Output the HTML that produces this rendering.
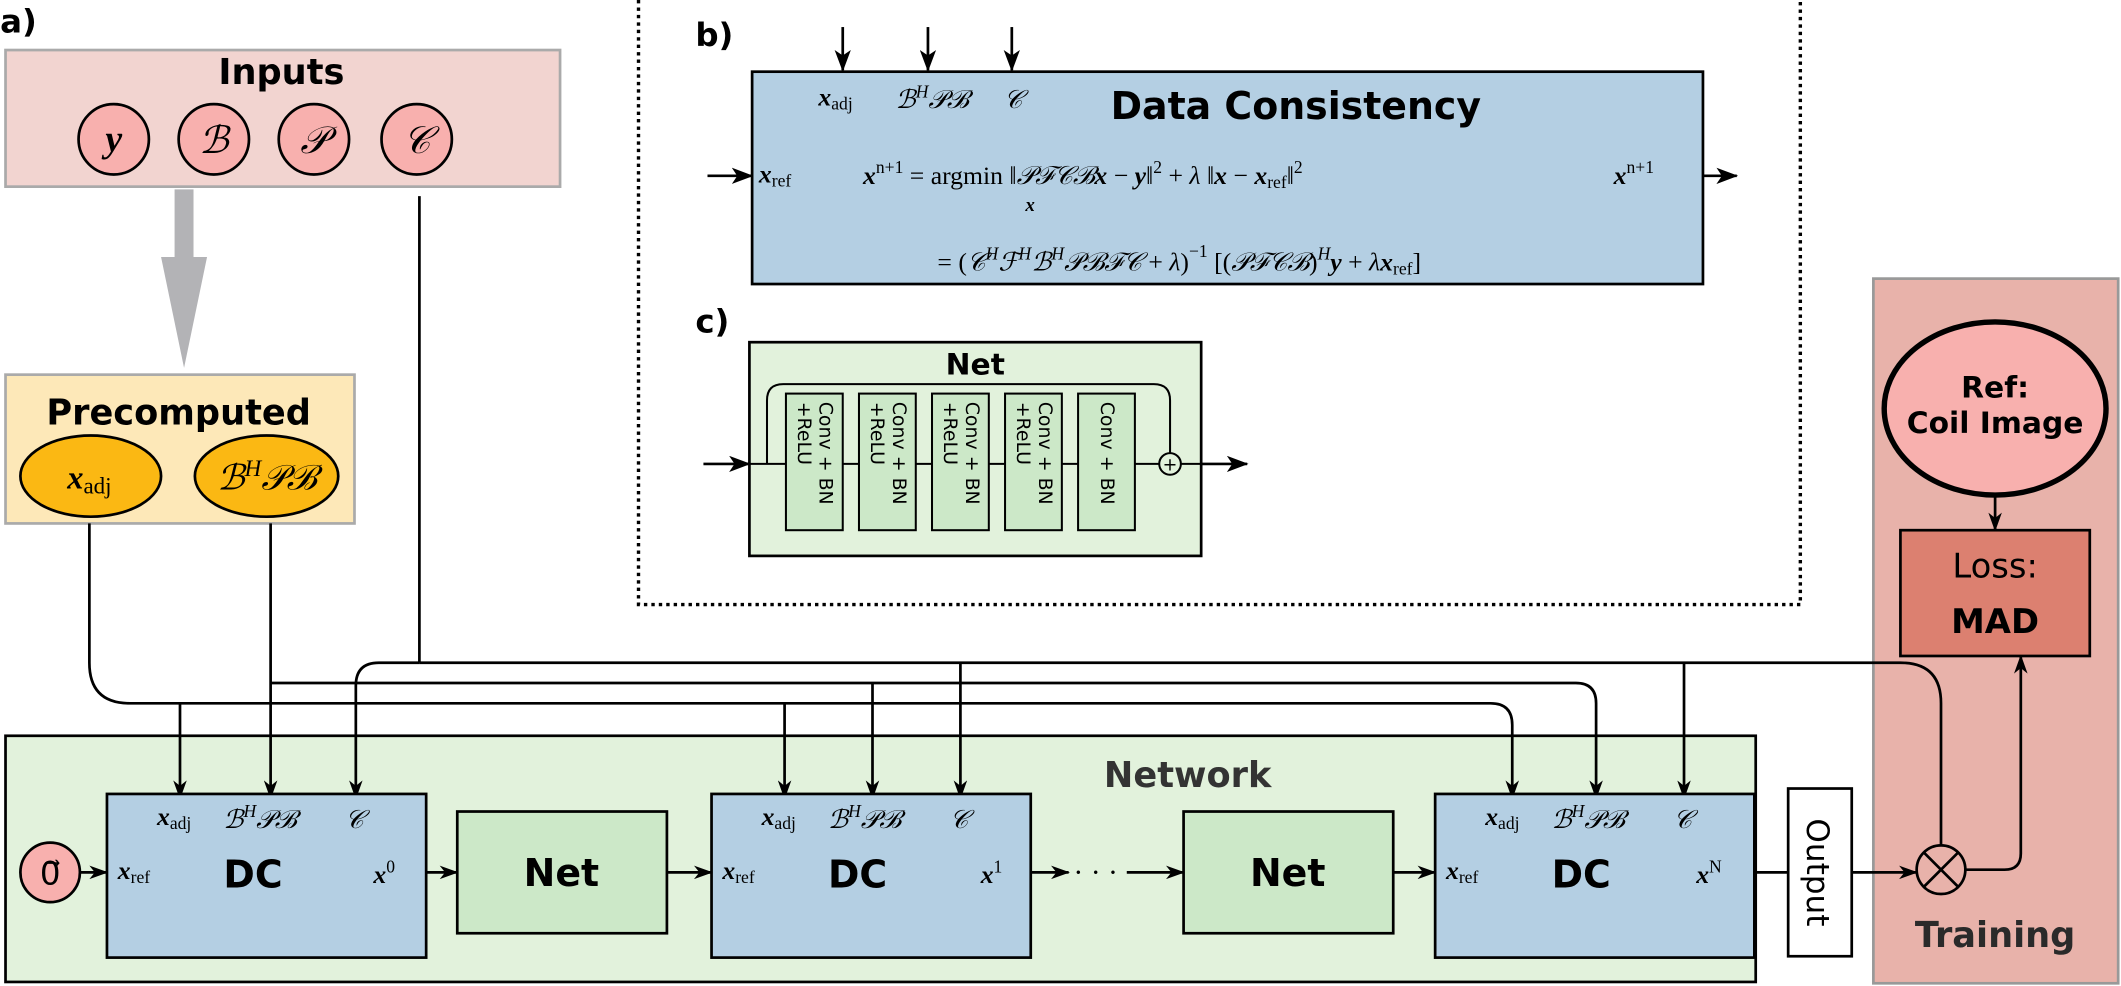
<!DOCTYPE html>
<html><head><meta charset="utf-8"><style>
html,body{margin:0;padding:0;background:#fff}
svg{display:block}
.b{font-family:"DejaVu Sans","Liberation Sans",sans-serif;font-weight:bold}
.s{font-family:"DejaVu Sans","Liberation Sans",sans-serif}
.m{font-family:"Liberation Serif","DejaVu Serif",serif;font-style:italic}
.r{font-family:"Liberation Serif","DejaVu Serif",serif}
</style></head><body>
<svg width="2121" height="986" viewBox="0 0 1568 729" xmlns="http://www.w3.org/2000/svg">
<defs><marker id="a" markerWidth="14" markerHeight="10" refX="13" refY="5" orient="auto" markerUnits="userSpaceOnUse"><path d="M0,0 L14,5 L0,10 L4,5 z" fill="#000"/></marker>
<marker id="A" markerWidth="16" markerHeight="12" refX="15" refY="6" orient="auto" markerUnits="userSpaceOnUse"><path d="M0,0 L16,6 L0,12 L4,6 z" fill="#000"/></marker></defs>

<text x="0" y="24" class="b" font-size="24">a)</text>
<path d="M472,0 V447 H1331 V0" fill="none" stroke="#000" stroke-width="2.5" stroke-dasharray="2.5,3"/>

<!-- Training (background) -->
<rect x="1385" y="206" width="181" height="521" fill="#e8b2aa" stroke="#999" stroke-width="2"/>

<!-- Inputs -->
<rect x="4" y="37" width="410" height="101" fill="#f2d4d0" stroke="#aaa" stroke-width="2"/>
<text x="208" y="62" text-anchor="middle" class="b" font-size="26">Inputs</text>
<g fill="#f8b0ae" stroke="#000" stroke-width="2"><circle cx="84" cy="103" r="26"/><circle cx="158" cy="103" r="26"/><circle cx="232" cy="103" r="26"/><circle cx="308" cy="103" r="26"/></g>
<g class="m" font-size="28" text-anchor="middle"><text x="84" y="112" font-weight="bold">y</text><text x="158" y="113">ℬ</text><text x="232" y="113">𝒫</text><text x="308" y="113">𝒞</text></g>
<path d="M129,140 H143 V190 H153 L136,272 L119,190 H129 Z" fill="#b3b3b6"/>

<!-- Precomputed -->
<rect x="4" y="277" width="258" height="110" fill="#fde8b8" stroke="#aaa" stroke-width="2"/>
<text x="132" y="314" text-anchor="middle" class="b" font-size="26">Precomputed</text>
<ellipse cx="67" cy="352" rx="52" ry="30" fill="#fbb813" stroke="#000" stroke-width="2"/>
<ellipse cx="197" cy="352" rx="53" ry="30" fill="#fbb813" stroke="#000" stroke-width="2"/>
<text x="66" y="361" text-anchor="middle" font-size="24"><tspan class="m" font-weight="bold">x</tspan><tspan class="r" font-size="17" dy="4">adj</tspan></text>
<text x="197" y="362" text-anchor="middle" font-size="26" class="m">ℬ<tspan font-size="17" dy="-10">H</tspan><tspan dy="10">𝒫ℬ</tspan></text>

<!-- Network -->
<rect x="4" y="544" width="1294" height="182" fill="#e2f2dc" stroke="#000" stroke-width="2"/>
<text x="878" y="582" text-anchor="middle" class="b" font-size="26" fill="#333">Network</text>

<!-- wiring -->
<g fill="none" stroke="#000" stroke-width="2">
<path d="M310,145 V490"/>
<path d="M310,490 H280 Q263,490 263,507 V590" marker-end="url(#a)"/>
<path d="M310,490 H1405 Q1435,490 1435,520 V625" />
<path d="M710,490 V590" marker-end="url(#a)"/>
<path d="M1245,490 V590" marker-end="url(#a)"/>
<path d="M200,387 V590" marker-end="url(#a)"/>
<path d="M200,505 H1165 Q1180,505 1180,520 V590" marker-end="url(#a)"/>
<path d="M645,505 V590" marker-end="url(#a)"/>
<path d="M66,387 V490 Q66,520 96,520 H1102 Q1118,520 1118,536 V590" marker-end="url(#a)"/>
<path d="M133,520 V590" marker-end="url(#a)"/>
<path d="M580,520 V590" marker-end="url(#a)"/>
</g>

<circle cx="37" cy="645" r="22" fill="#f8b0ae" stroke="#000" stroke-width="2"/>
<text x="37" y="654" text-anchor="middle" class="r" font-size="24">0⃗</text>

<rect x="79" y="587" width="236" height="121" fill="#b4cfe3" stroke="#000" stroke-width="2"/>
<rect x="526" y="587" width="236" height="121" fill="#b4cfe3" stroke="#000" stroke-width="2"/>
<rect x="1061" y="587" width="236" height="121" fill="#b4cfe3" stroke="#000" stroke-width="2"/>
<rect x="338" y="600" width="155" height="90" fill="#cce8c8" stroke="#000" stroke-width="2"/>
<rect x="875" y="600" width="155" height="90" fill="#cce8c8" stroke="#000" stroke-width="2"/>
<text x="415" y="655" text-anchor="middle" class="b" font-size="28">Net</text>
<text x="952" y="655" text-anchor="middle" class="b" font-size="28">Net</text>

<g font-size="19">
<text x="116" y="610"><tspan class="m" font-weight="bold">x</tspan><tspan class="r" font-size="13" dy="3">adj</tspan></text>
<text x="165" y="612" class="m">ℬ<tspan font-size="13" dy="-8">H</tspan><tspan dy="8">𝒫ℬ</tspan></text>
<text x="255" y="612" class="m">𝒞</text>
<text x="87" y="650"><tspan class="m" font-weight="bold">x</tspan><tspan class="r" font-size="13" dy="3">ref</tspan></text>
<text x="276" y="653"><tspan class="m" font-weight="bold">x</tspan><tspan class="r" font-size="13" dy="-8">0</tspan></text>
<text x="563" y="610"><tspan class="m" font-weight="bold">x</tspan><tspan class="r" font-size="13" dy="3">adj</tspan></text>
<text x="612" y="612" class="m">ℬ<tspan font-size="13" dy="-8">H</tspan><tspan dy="8">𝒫ℬ</tspan></text>
<text x="702" y="612" class="m">𝒞</text>
<text x="534" y="650"><tspan class="m" font-weight="bold">x</tspan><tspan class="r" font-size="13" dy="3">ref</tspan></text>
<text x="725" y="653"><tspan class="m" font-weight="bold">x</tspan><tspan class="r" font-size="13" dy="-8">1</tspan></text>
<text x="1098" y="610"><tspan class="m" font-weight="bold">x</tspan><tspan class="r" font-size="13" dy="3">adj</tspan></text>
<text x="1147" y="612" class="m">ℬ<tspan font-size="13" dy="-8">H</tspan><tspan dy="8">𝒫ℬ</tspan></text>
<text x="1237" y="612" class="m">𝒞</text>
<text x="1069" y="650"><tspan class="m" font-weight="bold">x</tspan><tspan class="r" font-size="13" dy="3">ref</tspan></text>
<text x="1254" y="653"><tspan class="m" font-weight="bold">x</tspan><tspan class="r" font-size="13" dy="-8">N</tspan></text>
</g>
<g class="b" font-size="28" text-anchor="middle"><text x="187" y="656">DC</text><text x="634" y="656">DC</text><text x="1169" y="656">DC</text></g>
<text x="810" y="652" class="r" font-size="22" text-anchor="middle">· · ·</text>

<g fill="none" stroke="#000" stroke-width="2">
<path d="M59,645 H79" marker-end="url(#a)"/>
<path d="M315,645 H338" marker-end="url(#a)"/>
<path d="M493,645 H526" marker-end="url(#a)"/>
<path d="M762,645 H790" marker-end="url(#a)"/>
<path d="M833,645 H875" marker-end="url(#a)"/>
<path d="M1030,645 H1061" marker-end="url(#a)"/>
<path d="M1297,645 H1322" />
<path d="M1369,645 H1417" marker-end="url(#a)"/>
</g>
<rect x="1322" y="583" width="47" height="124" fill="#fff" stroke="#000" stroke-width="2"/>
<text transform="translate(1336,645) rotate(90)" text-anchor="middle" class="s" font-size="23">Output</text>

<!-- Training content -->
<text x="1475" y="700" text-anchor="middle" class="b" font-size="26" fill="#2a2a2a">Training</text>
<ellipse cx="1475" cy="302" rx="82" ry="64" fill="#f8b0ae" stroke="#000" stroke-width="4"/>
<text x="1475" y="294" text-anchor="middle" class="b" font-size="22">Ref:</text>
<text x="1475" y="320" text-anchor="middle" class="b" font-size="22">Coil Image</text>
<path d="M1475,367 V392" stroke="#000" stroke-width="2" marker-end="url(#a)"/>
<rect x="1405" y="392" width="140" height="93" fill="#dc8070" stroke="#000" stroke-width="2"/>
<text x="1475" y="427" text-anchor="middle" class="s" font-size="25">Loss:</text>
<text x="1475" y="468" text-anchor="middle" class="b" font-size="25">MAD</text>
<circle cx="1435" cy="643" r="18" fill="none" stroke="#000" stroke-width="2"/>
<path d="M1422,630 L1448,656 M1448,630 L1422,656" stroke="#000" stroke-width="2"/>
<path d="M1453,643 H1482 Q1494,643 1494,631 V485" fill="none" stroke="#000" stroke-width="2" marker-end="url(#a)"/>

<!-- b) -->
<text x="514" y="34" class="b" font-size="24">b)</text>
<rect x="556" y="53" width="703" height="157" fill="#b4cfe3" stroke="#000" stroke-width="2"/>
<g stroke="#000" stroke-width="2"><path d="M623,20 V52" marker-end="url(#A)"/><path d="M686,20 V52" marker-end="url(#A)"/><path d="M748,20 V52" marker-end="url(#A)"/>
<path d="M523,130 H556" marker-end="url(#A)"/><path d="M1259,130 H1284" marker-end="url(#A)"/></g>
<text x="958" y="88" text-anchor="middle" class="b" font-size="28">Data Consistency</text>
<g font-size="19">
<text x="605" y="78"><tspan class="m" font-weight="bold">x</tspan><tspan class="r" font-size="13" dy="3">adj</tspan></text>
<text x="662" y="80" class="m">ℬ<tspan font-size="13" dy="-8">H</tspan><tspan dy="8">𝒫ℬ</tspan></text>
<text x="742" y="80" class="m">𝒞</text>
<text x="561" y="135"><tspan class="m" font-weight="bold">x</tspan><tspan class="r" font-size="13" dy="3">ref</tspan></text>
<text x="1193" y="136"><tspan class="m" font-weight="bold">x</tspan><tspan class="r" font-size="13" dy="-8">n+1</tspan></text>
<text x="638" y="136"><tspan class="m" font-weight="bold">x</tspan><tspan class="r" font-size="13" dy="-8">n+1</tspan><tspan class="r" dy="8"> = argmin ‖</tspan><tspan class="m">𝒫ℱ𝒞ℬ</tspan><tspan class="m" font-weight="bold">x</tspan><tspan class="r"> − </tspan><tspan class="m" font-weight="bold">y</tspan><tspan class="r">‖</tspan><tspan class="r" font-size="13" dy="-8">2</tspan><tspan class="r" dy="8"> + </tspan><tspan class="m">λ</tspan><tspan class="r"> ‖</tspan><tspan class="m" font-weight="bold">x</tspan><tspan class="r"> − </tspan><tspan class="m" font-weight="bold">x</tspan><tspan class="r" font-size="13" dy="3">ref</tspan><tspan class="r" dy="-3">‖</tspan><tspan class="r" font-size="13" dy="-8">2</tspan></text>
<text x="758" y="156" class="m" font-weight="bold" font-size="14">x</text>
<text x="693" y="200"><tspan class="r">= (</tspan><tspan class="m">𝒞</tspan><tspan class="m" font-size="13" dy="-8">H</tspan><tspan class="m" dy="8">ℱ</tspan><tspan class="m" font-size="13" dy="-8">H</tspan><tspan class="m" dy="8">ℬ</tspan><tspan class="m" font-size="13" dy="-8">H</tspan><tspan class="m" dy="8">𝒫ℬℱ𝒞</tspan><tspan class="r"> + </tspan><tspan class="m">λ</tspan><tspan class="r">)</tspan><tspan class="r" font-size="13" dy="-10">−1</tspan><tspan class="r" dy="10"> [(</tspan><tspan class="m">𝒫ℱ𝒞ℬ</tspan><tspan class="r">)</tspan><tspan class="m" font-size="13" dy="-8">H</tspan><tspan class="m" font-weight="bold" dy="8">y</tspan><tspan class="r"> + </tspan><tspan class="m">λ</tspan><tspan class="m" font-weight="bold">x</tspan><tspan class="r" font-size="13" dy="3">ref</tspan><tspan class="r" dy="-3">]</tspan></text>
</g>

<!-- c) -->
<text x="514" y="246" class="b" font-size="24">c)</text>
<rect x="554" y="253" width="334" height="158" fill="#e2f2dc" stroke="#000" stroke-width="2"/>
<text x="721" y="277" text-anchor="middle" class="b" font-size="22">Net</text>
<path d="M567,343 V296 Q567,284 579,284 H853 Q865,284 865,296 V335" fill="none" stroke="#000" stroke-width="1.5"/>
<path d="M520,343 H554" stroke="#000" stroke-width="2" marker-end="url(#A)"/>
<path d="M554,343 H857 M873,343 H888" stroke="#000" stroke-width="1.5"/>
<path d="M888,343 H922" stroke="#000" stroke-width="2" marker-end="url(#A)"/>
<circle cx="865" cy="343" r="8" fill="#e2f2dc" stroke="#000" stroke-width="1.5"/>
<text x="865" y="348" text-anchor="middle" class="s" font-size="13">+</text>
<g fill="#cce8c8" stroke="#000" stroke-width="1.5">
<rect x="581" y="291" width="42" height="101"/><rect x="635" y="291" width="42" height="101"/><rect x="689" y="291" width="42" height="101"/><rect x="743" y="291" width="42" height="101"/><rect x="797" y="291" width="42" height="101"/></g>
<g class="s" font-size="14">
<text transform="translate(606,297) rotate(90)">Conv + BN</text><text transform="translate(590,297) rotate(90)">+ReLU</text>
<text transform="translate(660,297) rotate(90)">Conv + BN</text><text transform="translate(644,297) rotate(90)">+ReLU</text>
<text transform="translate(714,297) rotate(90)">Conv + BN</text><text transform="translate(698,297) rotate(90)">+ReLU</text>
<text transform="translate(768,297) rotate(90)">Conv + BN</text><text transform="translate(752,297) rotate(90)">+ReLU</text>
<text transform="translate(814,297) rotate(90)">Conv + BN</text>
</g>
</svg>
</body></html>
